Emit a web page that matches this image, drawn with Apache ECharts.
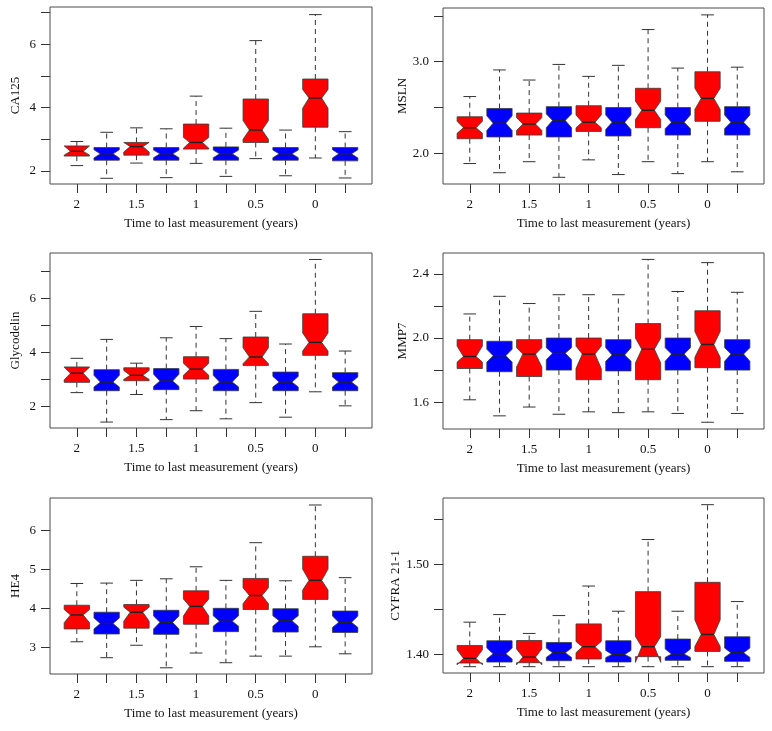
<!DOCTYPE html>
<html>
<head>
<meta charset="utf-8">
<script src="https://cdn.jsdelivr.net/npm/echarts@6/dist/echarts.min.js"></script>
<style>html,body{margin:0;padding:0;background:#fff}#c{width:772px;height:731px}</style>
</head>
<body>
<div id="c"></div>
<script>
// x positions of the 10 boxes and the tick labels shown under odd positions
const positions = [1,2,3,4,5,6,7,8,9,10];
const xTickLabels = {1:'2', 3:'1.5', 5:'1', 7:'0.5', 9:'0'};
const xTitle = 'Time to last measurement (years)';

// each box: [min, q1, notchLow, median, notchHigh, q3, max]
const ca125 = [
  [2.17,2.47,2.50,2.62,2.79,2.79,2.93],
  [1.77,2.34,2.41,2.54,2.67,2.74,3.22],
  [2.25,2.50,2.60,2.77,2.90,2.90,3.36],
  [1.79,2.34,2.42,2.54,2.66,2.74,3.33],
  [2.24,2.69,2.72,2.90,3.06,3.48,4.36],
  [1.83,2.34,2.42,2.54,2.66,2.76,3.35],
  [2.39,2.90,3.00,3.29,3.59,4.27,6.11],
  [1.85,2.34,2.42,2.54,2.66,2.74,3.29],
  [2.41,3.38,3.98,4.30,4.57,4.90,6.93],
  [1.78,2.32,2.41,2.54,2.67,2.74,3.24]
];
const msln = [
  [1.89,2.16,2.22,2.28,2.35,2.40,2.62],
  [1.79,2.18,2.25,2.33,2.41,2.49,2.91],
  [1.91,2.20,2.25,2.32,2.39,2.44,2.80],
  [1.74,2.18,2.28,2.36,2.43,2.51,2.97],
  [1.93,2.24,2.28,2.34,2.42,2.52,2.84],
  [1.77,2.19,2.26,2.34,2.42,2.50,2.96],
  [1.91,2.28,2.37,2.47,2.57,2.71,3.35],
  [1.78,2.20,2.27,2.34,2.42,2.50,2.93],
  [1.91,2.35,2.48,2.60,2.71,2.89,3.51],
  [1.80,2.20,2.27,2.34,2.42,2.51,2.94]
];
const glycodelin = [
  [2.51,2.89,2.98,3.23,3.45,3.46,3.78],
  [1.42,2.58,2.72,2.90,3.15,3.36,4.48],
  [2.44,2.95,3.00,3.15,3.33,3.43,3.60],
  [1.51,2.62,2.74,2.94,3.19,3.40,4.54],
  [1.84,3.01,3.15,3.38,3.60,3.84,4.96],
  [1.54,2.58,2.72,2.90,3.15,3.37,4.51],
  [2.14,3.51,3.58,3.83,4.17,4.57,5.52],
  [1.60,2.58,2.72,2.90,3.11,3.27,4.31],
  [2.54,3.89,4.05,4.37,4.72,5.43,7.44],
  [2.02,2.58,2.72,2.90,3.09,3.25,4.05]
];
const mmp7 = [
  [1.615,1.81,1.85,1.885,1.95,1.99,2.15],
  [1.515,1.79,1.85,1.89,1.93,1.98,2.26],
  [1.57,1.76,1.82,1.90,1.94,1.99,2.215],
  [1.525,1.80,1.865,1.905,1.94,2.00,2.27],
  [1.54,1.74,1.81,1.90,1.95,2.00,2.27],
  [1.535,1.795,1.855,1.895,1.94,1.99,2.27],
  [1.54,1.74,1.845,1.93,2.00,2.09,2.49],
  [1.53,1.80,1.855,1.90,1.94,2.00,2.29],
  [1.475,1.815,1.88,1.96,2.04,2.17,2.47],
  [1.53,1.80,1.855,1.90,1.94,1.99,2.285]
];
const he4 = [
  [3.14,3.47,3.63,3.83,3.97,4.08,4.64],
  [2.73,3.34,3.47,3.61,3.75,3.90,4.65],
  [3.05,3.49,3.67,3.90,4.03,4.10,4.72],
  [2.47,3.33,3.47,3.64,3.80,3.95,4.76],
  [2.85,3.59,3.80,4.05,4.24,4.45,5.07],
  [2.60,3.40,3.54,3.67,3.81,4.00,4.72],
  [2.77,3.97,4.12,4.33,4.53,4.77,5.69],
  [2.77,3.39,3.54,3.68,3.81,3.99,4.71],
  [3.01,4.23,4.47,4.72,5.01,5.34,6.66],
  [2.83,3.38,3.51,3.64,3.80,3.93,4.79]
];
const cyfra = [
  [1.3864,1.3904,1.3885,1.3956,1.4050,1.4099,1.4357],
  [1.3864,1.3915,1.3950,1.4007,1.4070,1.4151,1.4441],
  [1.3864,1.3908,1.3885,1.3970,1.4060,1.4154,1.4232],
  [1.3864,1.3930,1.3967,1.4018,1.4070,1.4132,1.4430],
  [1.3864,1.3949,1.4019,1.4085,1.4143,1.4338,1.4757],
  [1.3864,1.3916,1.3964,1.4000,1.4044,1.4151,1.4478],
  [1.3864,1.3975,1.3912,1.4085,1.4198,1.4695,1.5272],
  [1.3864,1.3934,1.3967,1.4004,1.4060,1.4170,1.4478],
  [1.3864,1.4033,1.4088,1.4221,1.4382,1.4798,1.5658],
  [1.3864,1.3923,1.3967,1.4018,1.4070,1.4195,1.4585]
];

const panelNames = ['CA125','MSLN','Glycodelin','MMP7','HE4','CYFRA 21-1'];
const panelData = [ca125, msln, glycodelin, mmp7, he4, cyfra];
const yMins = [1.59, 1.667, 1.20, 1.433, 2.31, 1.3794];
const yMaxs = [7.17, 3.585, 7.68, 2.53, 6.84, 1.5732];
const yTicks = [[2,3,4,5,6,7],[2.0,2.5,3.0,3.5],[2,3,4,5,6,7],[1.6,1.8,2.0,2.2,2.4],[3,4,5,6],[1.40,1.45,1.50,1.55]];
const yLabels = [[2,4,6],[2.0,3.0],[2,4,6],[1.6,2.0,2.4],[3,4,5,6],[1.40,1.50]];
const yDecimals = [0,1,0,1,0,2];

const boxColors = ['#FF0000','#0000FF'];
const gridPos = [
  {left:50, top:7, width:322, height:177},
  {left:443, top:8, width:321, height:176},
  {left:50, top:253, width:322, height:175},
  {left:443, top:253, width:321, height:176},
  {left:50, top:498, width:322, height:176},
  {left:443, top:498, width:321, height:175}
];
const FONT = '"Liberation Serif", "DejaVu Serif", serif';
const BOXWEX = 0.85;

const chart = echarts.init(document.getElementById('c'), null, {renderer:'canvas'});

function renderBox(params, api) {
  const x = api.value(0);
  const v = [1,2,3,4,5,6,7].map(i => api.value(i));
  const px = api.coord([x, v[3]])[0];
  const hw = api.size([BOXWEX, 0])[0] / 2;
  const y = v.map(val => api.coord([x, val])[1]);
  const [yMin, yQ1, yNlo, yMed, yNhi, yQ3, yMax] = y;
  const L = px - hw, R = px + hw, nl = px - hw * 0.5, nr = px + hw * 0.5;
  const sw = hw * 0.5;
  const color = boxColors[params.dataIndex % 2];
  const dash = {stroke:'#333', lineWidth:1, lineDash:[5,4]};
  const solid = {stroke:'#333', lineWidth:1};
  return {
    type:'group',
    children:[
      {type:'line', shape:{x1:px,y1:yQ3,x2:px,y2:yMax}, style:dash},
      {type:'line', shape:{x1:px,y1:yQ1,x2:px,y2:yMin}, style:dash},
      {type:'line', shape:{x1:px-sw,y1:yMax,x2:px+sw,y2:yMax}, style:solid},
      {type:'line', shape:{x1:px-sw,y1:yMin,x2:px+sw,y2:yMin}, style:solid},
      {type:'polygon', shape:{points:[[L,yQ1],[R,yQ1],[R,yNlo],[nr,yMed],[R,yNhi],[R,yQ3],[L,yQ3],[L,yNhi],[nl,yMed],[L,yNlo]]},
        style:{fill:color, stroke:'#3a3a3a', lineWidth:0.8}},
      {type:'line', shape:{x1:nl,y1:yMed,x2:nr,y2:yMed}, style:{stroke:'#222', lineWidth:1.4}}
    ]
  };
}

const grids = [], xAxes = [], yAxes = [], series = [];
panelNames.forEach((name, i) => {
  grids.push(Object.assign({show:true, borderColor:'#4a4a4a', borderWidth:1, backgroundColor:'transparent'}, gridPos[i]));
  xAxes.push({
    type:'value', gridIndex:i, min:0.1, max:10.9,
    name:xTitle, nameLocation:'middle', nameGap:33,
    nameTextStyle:{fontFamily:FONT, fontSize:13, color:'#111'},
    axisLine:{show:false}, splitLine:{show:false},
    axisTick:{show:true, customValues:positions, length:9, lineStyle:{color:'#333'}},
    axisLabel:{customValues:Object.keys(xTickLabels).map(Number), formatter:v => xTickLabels[Math.round(v)] || '',
      fontFamily:FONT, fontSize:13, color:'#111', margin:14}
  });
  yAxes.push({
    type:'value', gridIndex:i, min:yMins[i], max:yMaxs[i],
    name:name, nameLocation:'middle', nameGap:28, nameRotate:90,
    nameTextStyle:{fontFamily:FONT, fontSize:13, color:'#111'},
    axisLine:{show:false}, splitLine:{show:false},
    axisTick:{show:true, customValues:yTicks[i], length:9, lineStyle:{color:'#333'}},
    axisLabel:{customValues:yLabels[i], formatter:v => Number(v).toFixed(yDecimals[i]),
      fontFamily:FONT, fontSize:13, color:'#111', margin:14}
  });
  series.push({
    type:'custom', xAxisIndex:i, yAxisIndex:i,
    renderItem:renderBox,
    encode:{x:0, y:[1,2,3,4,5,6,7]},
    data:panelData[i].map((b, j) => [positions[j]].concat(b)),
    clip:false, silent:true
  });
});

chart.setOption({animation:false, backgroundColor:'#fff', grid:grids, xAxis:xAxes, yAxis:yAxes, series:series});
</script>
</body>
</html>
